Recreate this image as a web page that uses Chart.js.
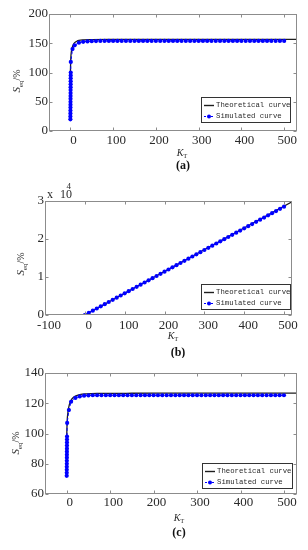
<!DOCTYPE html>
<html><head><meta charset="utf-8">
<script src="https://cdn.jsdelivr.net/npm/chart.js@4/dist/chart.umd.min.js"></script>
<style>
html,body{margin:0;padding:0;background:#fff;width:308px;height:550px;overflow:hidden}
canvas{position:absolute;left:0}
</style></head><body>
<canvas id="ca" width="308" height="176" style="top:0px"></canvas>
<canvas id="cb" width="308" height="182" style="top:176px"></canvas>
<canvas id="cc" width="308" height="192" style="top:358px"></canvas>
<script>
// ---------- Panel (a) ----------
const kTheoA = [0, 1, 2, 4, 7, 10, 15, 20, 30, 50, 100, 200, 300, 400, 530];
const sTheoA = [100, 125, 134, 142, 148, 151, 153.5, 154.8, 155.7, 156.2, 156.5, 156.6, 156.6, 156.6, 156.6];
const kSimA = [0,0.05,0.1,0.15,0.2,0.25,0.3,0.35,0.4,0.45,0.5,0.55,0.6,0.65,0.7,0.75,0.8,1,5,10,20,30,40,50,60,70,80,90,100,110,120,130,140,150,160,170,180,190,200,210,220,230,240,250,260,270,280,290,300,310,320,330,340,350,360,370,380,390,400,410,420,430,440,450,460,470,480,490,500];
const sSimA = [20,25,30,35,40,45,50,55,60,65,70,75,80,85,90,95,100,118,140,146.5,151,152.5,153.2,153.6,153.8,153.9,154,154,154,154,154,154,154,154,154,154,154,154,154,154,154,154,154,154,154,154,154,154,154,154,154,154,154,154,154,154,154,154,154,154,154,154,154,154,154,154,154,154,154];
const xTicksA = [0, 100, 200, 300, 400, 500];
const yTicksA = [0, 50, 100, 150, 200];

// ---------- Panel (b) ----------
const kTheoB = [0, 520];
const sTheoB = [0, 29800];
const kSimB = [0,10,20,30,40,50,60,70,80,90,100,110,120,130,140,150,160,170,180,190,200,210,220,230,240,250,260,270,280,290,300,310,320,330,340,350,360,370,380,390,400,410,420,430,440,450,460,470,480,490,500];
const sSimB = [0,570,1140,1710,2280,2850,3420,3990,4560,5130,5700,6270,6840,7410,7980,8550,9120,9690,10260,10830,11400,11970,12540,13110,13680,14250,14820,15390,15960,16530,17100,17670,18240,18810,19380,19950,20520,21090,21660,22230,22800,23370,23940,24510,25080,25650,26220,26790,27360,27930,28500];
const xTicksB = [-100, 0, 100, 200, 300, 400, 500];
const yTicksB = [0, 10000, 20000, 30000];
const yTickLabelsB = ['0', '1', '2', '3'];

// ---------- Panel (c) ----------
const kTheoC = [0, 1, 3, 6, 10, 15, 20, 30, 45, 70, 150, 300, 530];
const sTheoC = [98, 108, 114.5, 119, 122, 123.8, 124.8, 125.7, 126.2, 126.5, 126.6, 126.7, 126.7];
const kSimC = [0,0.05,0.1,0.15,0.2,0.25,0.3,0.35,0.4,0.45,0.5,0.55,0.6,0.65,1,5,10,20,30,40,50,60,70,80,90,100,110,120,130,140,150,160,170,180,190,200,210,220,230,240,250,260,270,280,290,300,310,320,330,340,350,360,370,380,390,400,410,420,430,440,450,460,470,480,490,500];
const sSimC = [72,74,76,78,80,82,84,86,88,90,92,94,96,98,107,115.5,121,123.5,124.5,125,125.2,125.3,125.3,125.3,125.3,125.3,125.3,125.3,125.3,125.3,125.3,125.3,125.3,125.3,125.3,125.3,125.3,125.3,125.3,125.3,125.3,125.3,125.3,125.3,125.3,125.3,125.3,125.3,125.3,125.3,125.3,125.3,125.3,125.3,125.3,125.3,125.3,125.3,125.3,125.3,125.3,125.3,125.3,125.3,125.3,125.3];
const xTicksC = [0, 100, 200, 300, 400, 500];
const yTicksC = [60, 80, 100, 120, 140];

const legendLabels = ['Theoretical curve', 'Simulated curve'];
const captions = ['(a)', '(b)', '(c)'];

const THEO = '#1e1e1e', SIM = '#0000ff', BOX = '#8c8c8c', TXT = '#2a2a2a';
const SERIF = '"Liberation Serif", "Times New Roman", serif';

function toXY(xs, ys){ return xs.map((x,i)=>({x:x, y:ys[i]})); }

function drawParts(ctx, parts, cx, cy){
  let w = 0;
  parts.forEach(p=>{ ctx.font = p.font; p.w = ctx.measureText(p.t).width; w += p.w; });
  let x = cx - w/2;
  ctx.textAlign = 'left'; ctx.textBaseline = 'alphabetic';
  parts.forEach(p=>{ ctx.font = p.font; ctx.fillText(p.t, x, cy + (p.dy||0)); x += p.w; });
}

function deco(p){
  return { id:'deco'+p.id, afterDraw(chart){
    const ctx = chart.ctx, ca = chart.chartArea, xs = chart.scales.x, ys = chart.scales.y;
    const T = p.T;
    ctx.save();
    // box
    ctx.strokeStyle = BOX; ctx.lineWidth = 1;
    const L = Math.round(ca.left)+0.5, R = Math.round(ca.right)-0.5, Tp = Math.round(ca.top)+0.5, B = Math.round(ca.bottom)-0.5;
    ctx.strokeRect(L, Tp, R-L, B-Tp);
    // inward ticks on all four sides
    ctx.beginPath();
    p.xTicks.forEach(v=>{ const x = Math.round(xs.getPixelForValue(v))+0.5;
      ctx.moveTo(x,B); ctx.lineTo(x,B-3); ctx.moveTo(x,Tp); ctx.lineTo(x,Tp+3); });
    p.yTicks.forEach(v=>{ const y = Math.round(ys.getPixelForValue(v))+0.5;
      ctx.moveTo(L,y); ctx.lineTo(L+3,y); ctx.moveTo(R,y); ctx.lineTo(R-3,y); });
    ctx.stroke();
    // legend
    const lg = p.legend, lx = lg.x, ly = lg.y - T;
    ctx.fillStyle = '#fff'; ctx.fillRect(lx, ly, lg.w, lg.h);
    ctx.strokeStyle = '#333'; ctx.lineWidth = 1;
    ctx.strokeRect(lx+0.5, ly+0.5, lg.w-1, lg.h-1);
    const r1 = ly + 8.5, r2 = ly + 19.5;
    ctx.strokeStyle = THEO; ctx.lineWidth = 1.4;
    ctx.beginPath(); ctx.moveTo(lx+3, r1); ctx.lineTo(lx+13, r1); ctx.stroke();
    ctx.strokeStyle = SIM; ctx.lineWidth = 1; ctx.setLineDash([2,1.5]);
    ctx.beginPath(); ctx.moveTo(lx+3, r2); ctx.lineTo(lx+13, r2); ctx.stroke();
    ctx.setLineDash([]);
    ctx.fillStyle = SIM; ctx.beginPath(); ctx.arc(lx+8, r2, 2, 0, Math.PI*2); ctx.fill();
    ctx.fillStyle = TXT; ctx.font = '7.3px "Liberation Mono", monospace';
    ctx.textAlign = 'left'; ctx.textBaseline = 'middle';
    ctx.fillText(legendLabels[0], lx+15, r1);
    ctx.fillText(legendLabels[1], lx+15, r2);
    // y title (rotated)
    ctx.fillStyle = TXT;
    ctx.save();
    ctx.translate(p.yTitle[0], p.yTitle[1]-T); ctx.rotate(-Math.PI/2);
    drawParts(ctx, [
      {t:'S', font:'italic 11px '+SERIF},
      {t:'eq', font:'7px '+SERIF, dy:2.5},
      {t:'/%', font:'10px '+SERIF}
    ], 0, 4);
    ctx.restore();
    // x title
    drawParts(ctx, [
      {t:'K', font:'italic 10px '+SERIF},
      {t:'T', font:'6.5px '+SERIF, dy:2}
    ], p.xTitle[0], p.xTitle[1]-T+3.5);
    // caption
    ctx.fillStyle = '#111';
    ctx.font = 'bold 12px '+SERIF; ctx.textAlign = 'center'; ctx.textBaseline = 'middle';
    ctx.fillText(p.caption, p.cap[0], p.cap[1]-T);
    // exponent label
    if (p.exponent){
      ctx.fillStyle = TXT; ctx.textAlign = 'left'; ctx.textBaseline = 'alphabetic';
      ctx.font = '12px '+SERIF;
      ctx.fillText('x', 47, 198-T);
      ctx.fillText('10', 60, 198-T);
      ctx.font = '9px '+SERIF;
      ctx.fillText('4', 66.5, 189-T);
    }
    ctx.restore();
  }};
}

function makePanel(p){
  const tickFont = {family:'"Liberation Serif", "Times New Roman", serif', size:13};
  new Chart(document.getElementById(p.id), {
    type:'line',
    data:{ datasets:[
      { label:legendLabels[0], data:toXY(p.kTheo, p.sTheo), borderColor:THEO, borderWidth:1.3,
        pointRadius:0, cubicInterpolationMode:'monotone', fill:false, order:1 },
      { label:legendLabels[1], data:toXY(p.kSim, p.sSim), borderColor:SIM, borderWidth:1,
        borderDash:[3,2], pointRadius:2.1, pointBackgroundColor:SIM, pointBorderColor:SIM,
        pointBorderWidth:0, fill:false, order:0 }
    ]},
    options:{
      responsive:false, animation:false, events:[],
      layout:{ padding:{ top:p.area.t - p.T, right:308 - p.area.r, left:0, bottom:0 } },
      plugins:{ legend:{display:false}, tooltip:{enabled:false} },
      scales:{
        x:{ type:'linear', min:p.xMin, max:p.xMax,
            afterBuildTicks:s=>{ s.ticks = p.xTicks.map(v=>({value:v})); },
            afterFit:s=>{ s.height = p.T + p.H - p.area.b; },
            grid:{display:false, drawTicks:false}, border:{display:false},
            ticks:{ font:tickFont, color:TXT, padding:p.xPad, labelOffset:p.xOff, maxRotation:0, autoSkip:false,
                    callback:v=>String(v) } },
        y:{ type:'linear', min:p.yMin, max:p.yMax,
            afterBuildTicks:s=>{ s.ticks = p.yTicks.map(v=>({value:v})); },
            afterFit:s=>{ s.width = p.area.l; },
            grid:{display:false, drawTicks:false}, border:{display:false},
            ticks:{ font:tickFont, color:TXT, padding:1, autoSkip:false,
                    callback:p.yFmt || (v=>String(v)) } }
      }
    },
    plugins:[deco(p)]
  });
}

makePanel({ id:'ca', T:0, H:176, area:{l:49, r:297, t:14, b:131},
  kTheo:kTheoA, sTheo:sTheoA, kSim:kSimA, sSim:sSimA,
  xMin:-50, xMax:530, xTicks:xTicksA, yMin:0, yMax:200, yTicks:yTicksA,
  xPad:2, xOff:3, legend:{x:201, y:97, w:90, h:26},
  yTitle:[16, 81], xTitle:[182, 152], cap:[183, 166], caption:captions[0] });

makePanel({ id:'cb', T:176, H:182, area:{l:45, r:292, t:201, b:315},
  kTheo:kTheoB, sTheo:sTheoB, kSim:kSimB, sSim:sSimB,
  xMin:-100, xMax:520, xTicks:xTicksB, yMin:0, yMax:30000, yTicks:yTicksB,
  yFmt:(v)=>yTickLabelsB[yTicksB.indexOf(v)],
  xPad:3, xOff:4, legend:{x:201, y:284, w:90, h:26}, exponent:true,
  yTitle:[20, 264], xTitle:[173, 335], cap:[178, 353], caption:captions[1] });

makePanel({ id:'cc', T:358, H:192, area:{l:45, r:297, t:373, b:494},
  kTheo:kTheoC, sTheo:sTheoC, kSim:kSimC, sSim:sSimC,
  xMin:-50, xMax:530, xTicks:xTicksC, yMin:60, yMax:140, yTicks:yTicksC,
  xPad:1, xOff:3, legend:{x:202, y:463, w:91, h:26},
  yTitle:[15, 443], xTitle:[179, 517], cap:[179, 533], caption:captions[2] });
</script>
</body></html>
